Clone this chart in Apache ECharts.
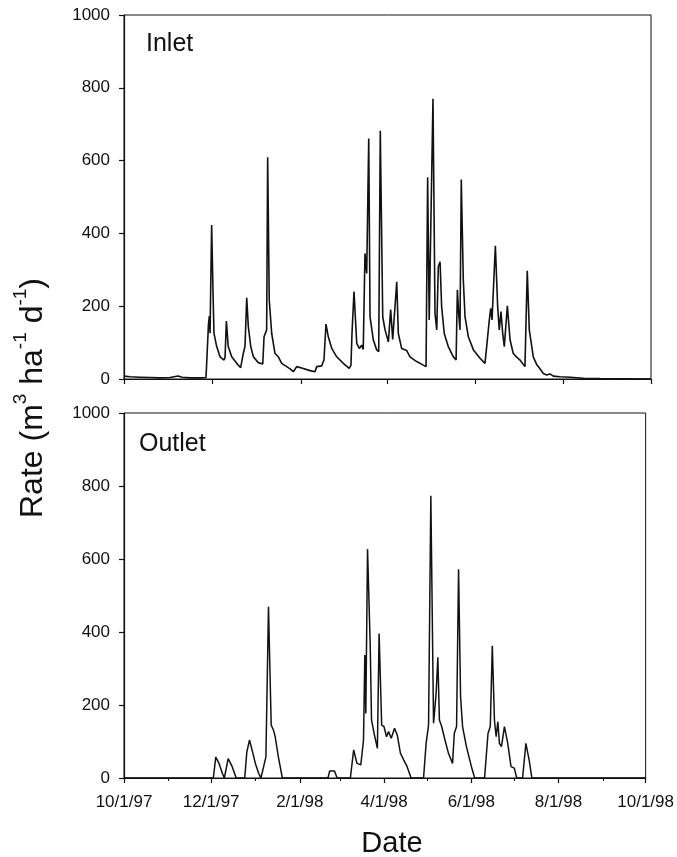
<!DOCTYPE html>
<html>
<head>
<meta charset="utf-8">
<script src="https://cdn.jsdelivr.net/npm/echarts@6/dist/echarts.min.js"></script>
<style>
html,body{margin:0;padding:0;background:#fff;}
#chart{width:677px;height:857px;}
</style>
</head>
<body>
<div id="chart"></div>
<script>
// Days since 10/1/97
const tickDays = [0, 61, 123, 182, 243, 304, 365];
const tickLabels = ['10/1/97', '12/1/97', '2/1/98', '4/1/98', '6/1/98', '8/1/98', '10/1/98'];
const monthDays = [0, 31, 61, 92, 123, 151, 182, 212, 243, 273, 304, 335, 365];
const panelNames = ['Inlet', 'Outlet'];

const inletDay = [0,4.2,11.1,18,24.9,31.9,37.4,40.2,45.7,52.6,56.8,57.7,58.5,59.1,59.6,60.7,61.6,62.3,64.2,66.5,69.3,70,70.9,72.2,74.6,78.1,80.8,82.6,83.8,85,86.1,87.8,89.6,93,96.1,97,98.8,99.5,100.6,102.3,104.6,106.9,109.2,112.7,115,117.3,119.6,124.2,128.8,132.3,133.5,136.9,138.5,139.9,141.5,143.9,147.3,151.9,156,157.2,157.9,159.3,161.2,163,164.6,165.7,166.9,168.1,169.5,170.4,172.7,175,176.4,177.5,179.2,180.8,181.9,183.1,184.7,186.1,188.9,190,192.3,195.8,198.1,202.7,207.3,209.2,210.3,211.4,214,215.4,216.6,217.7,218.9,220,221.8,224.6,228.1,230,230.9,231.8,232.7,233.6,235,236.2,238.5,242,246.6,250,251.2,253,254,254.9,257.2,258.8,259.9,261.1,262.3,263.4,265.5,267.4,269.6,272,274.3,277.7,279.3,280.7,283.5,285.8,288.1,290.4,292.7,295,297.4,302,309,318.1,329.7,365];
const inletRate = [8,6,5,4,3,4,8,5,3,3,4,5,150,173,126,423,250,126,89,61,52,60,159,89,61,43,31,70,90,223,144,89,61,45,41,116,135,609,217,125,70,61,43,34,28,20,34,29,23,20,34,36,52,151,116,84,61,43,29,38,125,240,98,84,93,81,345,290,661,171,107,80,75,682,171,135,139,102,191,109,267,125,84,78,61,48,38,34,554,162,770,180,135,309,322,199,125,89,61,52,245,180,135,548,272,171,116,80,57,43,89,162,194,162,366,199,135,185,125,89,201,107,70,60,52,34,297,135,60,40,28,15,11,14,8,6,5,2,1,0];

const outletDay = [0,62.5,64.2,66.5,68.8,70.2,71.1,72.9,75.7,78.5,84.5,85.9,87.8,89.6,91.9,94.2,95.8,97.7,99.3,101.1,103,104.6,105.8,108,110.8,142.7,143.9,147.3,149.1,158.4,160.7,163,165.7,167.6,168.5,169.2,170.4,172.3,173.2,175,177.3,178.5,180.3,181.9,183.7,185.1,187,189.3,191.2,193.4,195.8,198.1,200.9,209.6,211.4,213.1,214.7,216.6,218.4,219.6,220.7,222.3,224.6,227,229.9,231.1,232.7,234.1,235.5,236.9,239.6,243.1,245.4,252.3,254.7,256.3,257.7,259.2,260.4,261.6,262.7,264.1,266.2,268.5,270.8,273.1,274.8,278.9,281.2,283.5,285.4,365];
const outletRate = [0,0,57,40,13,0,0,53,31,0,0,70,104,77,40,13,0,31,58,469,145,131,113,58,0,0,19,19,0,0,77,40,36,104,337,177,627,360,159,122,81,396,145,141,113,127,109,136,118,68,49,31,0,0,95,145,773,150,232,331,159,141,104,68,40,122,141,572,223,141,86,31,0,0,122,141,362,159,113,154,95,86,141,95,31,27,0,0,95,49,0,0];

const FONT = "'Liberation Sans', Arial, sans-serif";
const INK = '#111';

function zip(xs, ys) { return xs.map((x, i) => [x, ys[i]]); }
function labelFor(v) {
  const i = tickDays.indexOf(Math.round(v));
  return i >= 0 ? tickLabels[i] : '';
}

const chart = echarts.init(document.getElementById('chart'), null, {renderer: 'canvas'});

const grids = [
  {left: 124, width: 527, top: 15, height: 364},
  {left: 124, width: 527, top: 413, height: 365}
].map(g => Object.assign(g, {show: true, borderColor: INK, borderWidth: 1, backgroundColor: 'transparent', containLabel: false}));

function xAxisFor(idx, showLabels) {
  return {
    type: 'value', gridIndex: idx, min: 0, max: 365,
    axisLine: {show: true, onZero: false, lineStyle: {color: INK, width: 1.2}},
    axisTick: {show: true, inside: false, length: 5, customValues: tickDays, lineStyle: {color: INK, width: 1.2}},
    axisLabel: {show: showLabels, customValues: tickDays, formatter: labelFor, fontFamily: FONT, fontSize: 17, color: INK, margin: 16},
    splitLine: {show: false}
  };
}
function yAxisFor(idx) {
  return {
    type: 'value', gridIndex: idx, min: 0, max: 1000, interval: 200,
    axisLine: {show: true, lineStyle: {color: INK, width: 1.2}},
    axisTick: {show: true, inside: false, length: 5, lineStyle: {color: INK, width: 1.2}},
    axisLabel: {fontFamily: FONT, fontSize: 17, color: INK, margin: 14, formatter: v => String(v)},
    splitLine: {show: false}
  };
}

const minorAxis = {
  type: 'value', gridIndex: 1, min: 0, max: 365, position: 'bottom',
  axisLine: {show: false},
  axisTick: {show: true, inside: false, length: 3, customValues: monthDays, lineStyle: {color: INK, width: 1}},
  axisLabel: {show: false},
  splitLine: {show: false}
};

const option = {
  backgroundColor: '#fff',
  animation: false,
  grid: grids,
  xAxis: [xAxisFor(0, false), xAxisFor(1, true), minorAxis],
  yAxis: [yAxisFor(0), yAxisFor(1)],
  title: [
    {text: panelNames[0], left: 141, top: 27, textStyle: {fontFamily: FONT, fontSize: 25, fontWeight: 'normal', color: INK}},
    {text: panelNames[1], left: 134, top: 427, textStyle: {fontFamily: FONT, fontSize: 25, fontWeight: 'normal', color: INK}},
    {text: 'Date', left: 387, top: 824, textAlign: 'center', textStyle: {fontFamily: FONT, fontSize: 29, fontWeight: 'normal', color: INK}}
  ],
  graphic: [{
    type: 'text',
    x: 30, y: 398,
    rotation: Math.PI / 2,
    style: {
      text: '{m|Rate (m}{s|3}{m| ha}{s|-1}{m| d}{s|-1}{m|)}',
      rich: {
        m: {fontFamily: FONT, fontSize: 32, lineHeight: 38, fill: INK, verticalAlign: 'bottom'},
        s: {fontFamily: FONT, fontSize: 19, lineHeight: 22, fill: INK, verticalAlign: 'top'}
      },
      align: 'center', verticalAlign: 'middle'
    }
  }],
  series: [
    {type: 'line', xAxisIndex: 0, yAxisIndex: 0, data: zip(inletDay, inletRate), showSymbol: false, lineStyle: {color: INK, width: 1.6}},
    {type: 'line', xAxisIndex: 1, yAxisIndex: 1, data: zip(outletDay, outletRate), showSymbol: false, lineStyle: {color: INK, width: 1.5}}
  ]
};
chart.setOption(option);
</script>
</body>
</html>
